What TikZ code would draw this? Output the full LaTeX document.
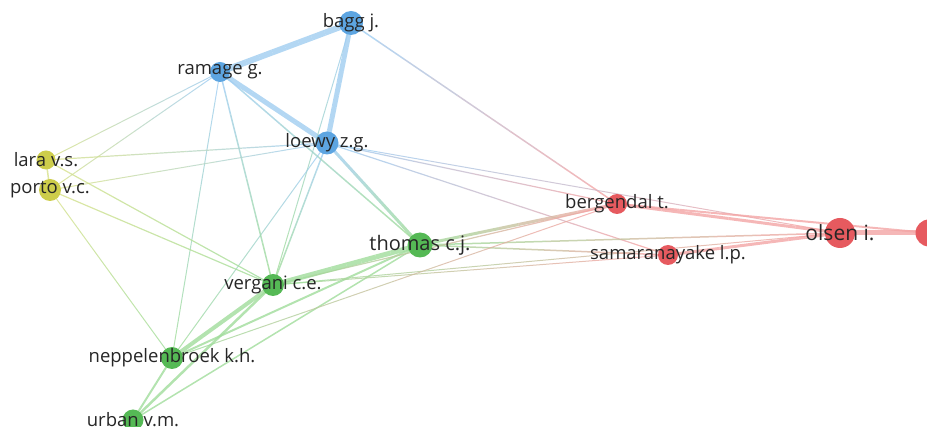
\documentclass[tikz,border=0pt]{standalone}
\usepackage{fontspec}
\setmainfont{Open Sans}
\usepackage{tikz}
\usetikzlibrary{calc}
\usetikzlibrary{backgrounds}

\definecolor{bluenode}{RGB}{93,165,225}
\definecolor{yellownode}{RGB}{205,205,75}
\definecolor{greennode}{RGB}{85,185,85}
\definecolor{rednode}{RGB}{230,90,95}
\definecolor{blueedge}{RGB}{160,205,240}
\definecolor{yellowedge}{RGB}{215,225,140}
\definecolor{greenedge}{RGB}{160,220,155}
\definecolor{rededge}{RGB}{243,165,165}
\definecolor{labelgray}{RGB}{38,38,38}

% link from #1 to #2, colour going from #3 to #4, width #5
\newcommand{\link}[5]{%
  \foreach \k in {0,...,9}{%
    \pgfmathsetmacro\ta{\k/10}%
    \pgfmathsetmacro\tb{(\k+1)/10}%
    \pgfmathtruncatemacro\mx{100-\k*100/9}%
    \draw [line width=#5, opacity=0.8, #3!\mx!#4] ($(#1)!\ta!(#2)$) -- ($(#1)!\tb!(#2)$);
  }}

\begin{document}
\begin{tikzpicture}[x=1pt,y=-1pt]
\tikzstyle{author}=[circle, inner sep=0pt]
\tikzstyle{lbl}=[text=labelgray, font=\fontsize{18.5}{20}\selectfont]
\useasboundingbox (0,0) rectangle (927,427);
\node [author, fill=bluenode, minimum size=24pt, label={[lbl]center:bagg j.}] (bagg) at (351,23) {};
\node [author, fill=bluenode, minimum size=20pt, label={[lbl]center:ramage g.}] (ramage) at (220,72) {};
\node [author, fill=bluenode, minimum size=23pt, label={[lbl]center:loewy z.g.}] (loewy) at (327,143) {};
\node [author, fill=yellownode, minimum size=19pt, label={[lbl]center:lara v.s.}] (lara) at (46,160) {};
\node [author, fill=yellownode, minimum size=22pt, label={[lbl]center:porto v.c.}] (porto) at (50,190) {};
\node [author, fill=greennode, minimum size=25pt, label={[lbl, font=\fontsize{20}{22}\selectfont]center:thomas c.j.}] (thomas) at (420,245) {};
\node [author, fill=greennode, minimum size=22pt, label={[lbl]center:vergani c.e.}] (vergani) at (273,285) {};
\node [author, fill=greennode, minimum size=22pt, label={[lbl]center:neppelenbroek k.h.}] (neppelenbroek) at (172,358) {};
\node [author, fill=greennode, minimum size=21pt, label={[lbl]center:urban v.m.}] (urban) at (133,420) {};
\node [author, fill=rednode, minimum size=20pt, label={[lbl]center:bergendal t.}] (bergendal) at (617,204) {};
\node [author, fill=rednode, minimum size=20pt, label={[lbl]center:samaranayake l.p.}] (samaranayake) at (668,255) {};
\node [author, fill=rednode, minimum size=30pt, label={[lbl, font=\fontsize{21}{23}\selectfont]center:olsen i.}] (olsen) at (840,233) {};
\node [author, fill=rednode, minimum size=27pt] (farright) at (929,233) {};

\begin{scope}[on background layer]
\link{ramage}{bagg}{blueedge}{blueedge}{6}
\link{bagg}{loewy}{blueedge}{blueedge}{5}
\link{ramage}{loewy}{blueedge}{blueedge}{5}
\link{bagg}{bergendal}{blueedge}{rededge}{1.5}
\link{bagg}{vergani}{blueedge}{greenedge}{1}
\link{loewy}{bergendal}{blueedge}{rededge}{1.2}
\link{loewy}{olsen}{blueedge}{rededge}{1}
\link{loewy}{samaranayake}{blueedge}{rededge}{1.2}
\link{loewy}{thomas}{blueedge}{greenedge}{3}
\link{loewy}{vergani}{blueedge}{greenedge}{1.5}
\link{loewy}{neppelenbroek}{blueedge}{greenedge}{1}
\link{ramage}{thomas}{blueedge}{greenedge}{1.5}
\link{ramage}{vergani}{blueedge}{greenedge}{1.5}
\link{ramage}{neppelenbroek}{blueedge}{greenedge}{1}
\link{lara}{ramage}{yellowedge}{blueedge}{1}
\link{porto}{ramage}{yellowedge}{blueedge}{1}
\link{lara}{loewy}{yellowedge}{blueedge}{1.2}
\link{porto}{loewy}{yellowedge}{blueedge}{1}
\link{lara}{porto}{yellowedge}{yellowedge}{1.5}
\link{lara}{vergani}{yellowedge}{greenedge}{1.2}
\link{porto}{vergani}{yellowedge}{greenedge}{1.2}
\link{porto}{neppelenbroek}{yellowedge}{greenedge}{1}
\link{thomas}{vergani}{greenedge}{greenedge}{5}
\link{vergani}{neppelenbroek}{greenedge}{greenedge}{4}
\link{vergani}{urban}{greenedge}{greenedge}{2.5}
\link{neppelenbroek}{urban}{greenedge}{greenedge}{2}
\link{thomas}{neppelenbroek}{greenedge}{greenedge}{2}
\link{thomas}{urban}{greenedge}{greenedge}{1.5}
\link{thomas}{bergendal}{greenedge}{rededge}{3}
\link{thomas}{samaranayake}{greenedge}{rededge}{1.5}
\link{thomas}{olsen}{greenedge}{rededge}{1.5}
\link{vergani}{bergendal}{greenedge}{rededge}{1.2}
\link{vergani}{olsen}{greenedge}{rededge}{1}
\link{vergani}{samaranayake}{greenedge}{rededge}{1}
\link{neppelenbroek}{bergendal}{greenedge}{rededge}{1}
\link{bergendal}{olsen}{rededge}{rededge}{3}
\link{bergendal}{farright}{rededge}{rededge}{2}
\link{samaranayake}{olsen}{rededge}{rededge}{3}
\link{olsen}{farright}{rededge}{rededge}{5}
\end{scope}
\end{tikzpicture}
\end{document}
